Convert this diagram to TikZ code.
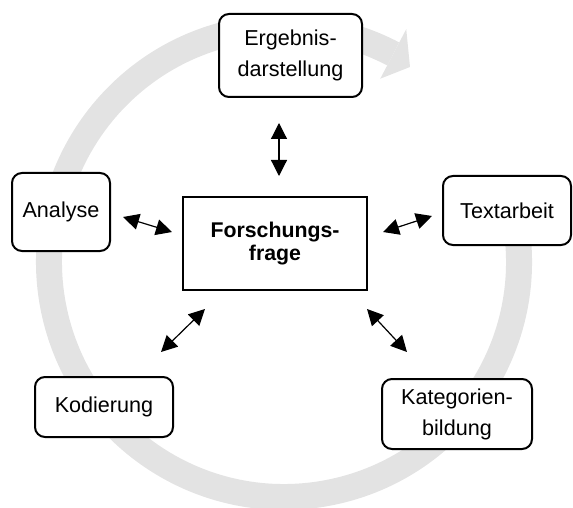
\documentclass[tikz,border=0pt]{standalone}
\usepackage{fontspec}
\setmainfont{Liberation Sans}
\usetikzlibrary{arrows.meta,calc}
\definecolor{ringgray}{RGB}{227,227,227}
\tikzset{
  stage/.style={draw=black, line width=2pt, rounded corners=10pt, fill=white, align=center,
    inner sep=0pt, font=\fontsize{21.6}{31}\selectfont},
  core/.style={draw=black, line width=1.5pt, fill=white, align=center, inner sep=0pt,
    font=\fontsize{21.3}{23}\selectfont\bfseries, minimum width=184pt, minimum height=93pt},
  link/.style={line width=1.2pt, {Triangle[length=16pt,width=16pt]}-{Triangle[length=16pt,width=16pt]}},
  ring/.style={draw=ringgray, line width=26pt}
}
\begin{document}
\begin{tikzpicture}[x=1pt,y=1pt]
\useasboundingbox (0,0) rectangle (573,507);
% cycle ring
\coordinate (c) at (284,245);
\draw[ring] (c) ++(10:235) arc[start angle=10, end angle=-297.7, radius=235];
\fill[ringgray] ($(c)+(62.3:263)$) -- (410,440) -- ($(c)+(62.3:207)$) -- cycle;
% nodes
\node[core] (ff) at (275,263.5) {Forschungs-\\frage};
\node[stage, minimum width=143pt, minimum height=83pt] (ed) at (290.5,451.5) {Ergebnis-\\darstellung};
\node[stage, minimum width=98pt, minimum height=78pt] (an) at (61,295) {Analyse};
\node[stage, minimum width=128pt, minimum height=69pt] (ta) at (507,296.5) {Textarbeit};
\node[stage, minimum width=138pt, minimum height=60pt] (ko) at (104,100) {Kodierung};
\node[stage, minimum width=150pt, minimum height=70pt] (kb) at (457,93) {Kategorien-\\bildung};
% arrow ends
\coordinate (t1) at (279,384); \coordinate (t2) at (279,331);
\coordinate (l1) at (123,290); \coordinate (l2) at (172,275);
\coordinate (r1) at (383,275); \coordinate (r2) at (432,291);
\coordinate (bl1) at (161,155); \coordinate (bl2) at (205,198);
\coordinate (br1) at (367,198); \coordinate (br2) at (407,155);
\draw[link] (t1) -- (t2);
\draw[link] (l1) -- (l2);
\draw[link] (r1) -- (r2);
\draw[link] (bl1) -- (bl2);
\draw[link] (br1) -- (br2);
\end{tikzpicture}
\end{document}
